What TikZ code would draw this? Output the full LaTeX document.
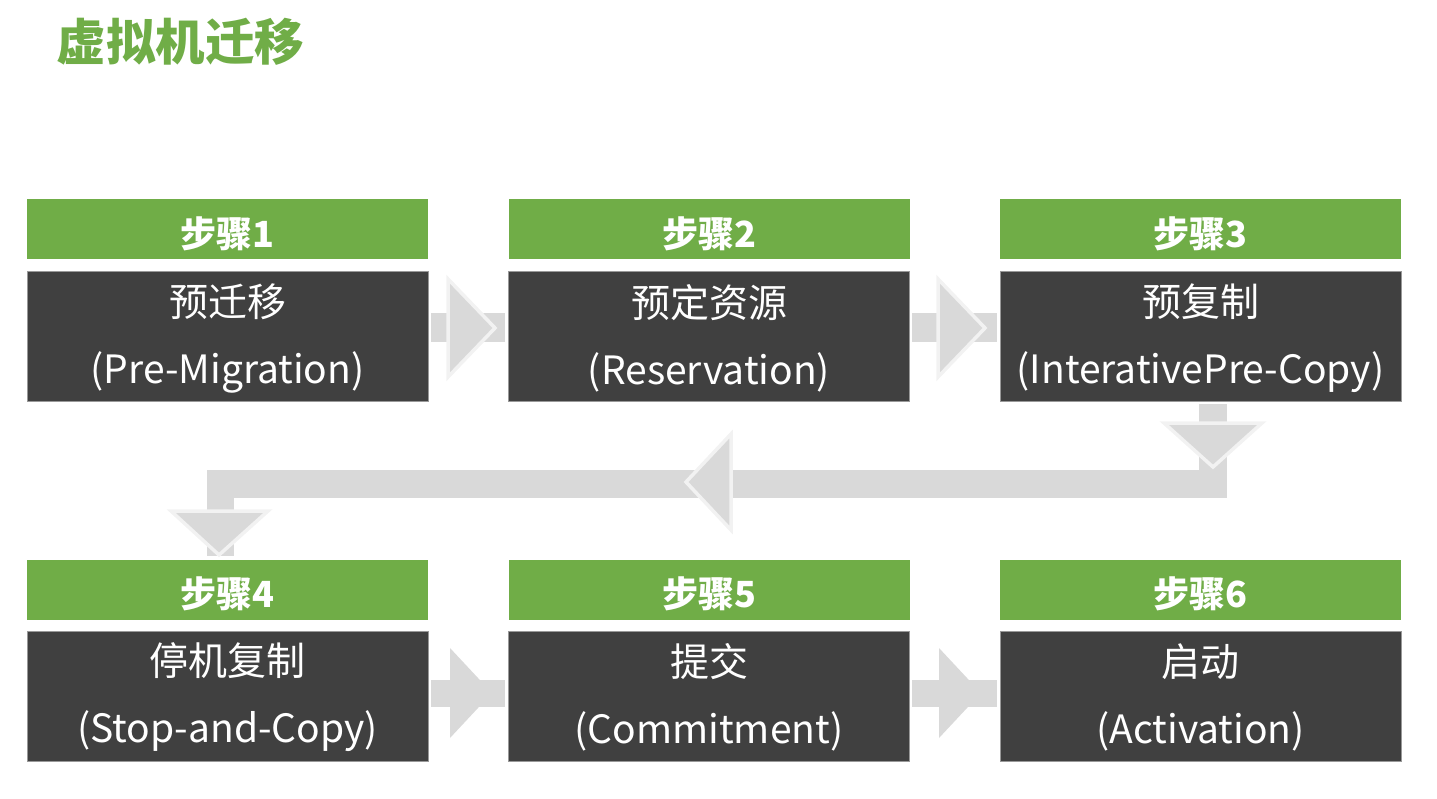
\documentclass[tikz,border=0pt]{standalone}
\usepackage{fontspec}
\setmainfont{Noto Sans CJK SC}
\definecolor{hgreen}{HTML}{70AD47}
\definecolor{dbox}{HTML}{404040}
\definecolor{afill}{HTML}{D9D9D9}
\definecolor{aedge}{HTML}{F2F2F2}
\tikzset{
  hdr/.style={rectangle, fill=hgreen, minimum width=401pt, minimum height=60pt, inner sep=0pt, text=white},
  hdrtext/.style={text=white, font=\fontsize{36}{40}\selectfont\bfseries},
  body/.style={rectangle, fill=dbox, draw=gray!80, line width=0.8pt, minimum width=401pt, minimum height=130pt, inner sep=0pt},
  bodytext/.style={text=white, align=center, font=\fontsize{39}{67}\selectfont},
  bar/.style={fill=afill},
  tri/.style={fill=afill, draw=aedge, line width=3.5pt, line join=miter},
  trib/.style={fill=afill},
}
\begin{document}
\begin{tikzpicture}[x=1pt,y=-1pt]
\useasboundingbox (0,0) rectangle (1437,799);
\node[text=hgreen, font=\fontsize{49.5}{54}\selectfont\bfseries, anchor=west] (title) at (53,42) {虚拟机迁移};

% connectors (block arrows) drawn first
% 1 -> 2
\fill[bar] (431,313) rectangle (505,342);
\draw[tri] (448,279) -- (495,328) -- (448,377) -- cycle;
% 2 -> 3
\fill[bar] (912,313) rectangle (997,342);
\draw[tri] (938,279) -- (985,328) -- (938,377) -- cycle;
% 3 -> 4 path
\fill[bar] (1199,404) rectangle (1227,498);
\fill[bar] (207,470) rectangle (1227,498);
\fill[bar] (207,470) rectangle (234,556);
\draw[tri] (1164,423) -- (1262,423) -- (1213,467) -- cycle;
\draw[tri] (731,434) -- (731,530) -- (686,482) -- cycle;
\draw[tri] (171,511) -- (268,511) -- (219,555) -- cycle;
% 4 -> 5
\fill[bar] (431,680) rectangle (505,707);
\fill[trib] (450,648) -- (492,693) -- (450,738) -- cycle;
% 5 -> 6
\fill[bar] (912,680) rectangle (997,707);
\fill[trib] (939,648) -- (981,693) -- (939,738) -- cycle;

% step boxes
\foreach \n/\x/\y/\t in {1/227.5/229.5/步骤1, 2/709/229.5/步骤2, 3/1200.5/229.5/步骤3,
                         4/227.5/589.5/步骤4, 5/709/589.5/步骤5, 6/1200.5/589.5/步骤6}{
  \node[hdr] (h\n) at (\x,\y) {};
  \node[hdrtext] (ht\n) at (\x,\y+4) {\t};
}
\foreach \n/\x/\y in {1/227.5/336, 2/709/336, 3/1200.5/336, 4/227.5/696, 5/709/696, 6/1200.5/696}{
  \node[body] (b\n) at (\x,\y) {};
}
\node[bodytext] (bt1) at (227.5,338) {预迁移\\(Pre-Migration)};
\node[bodytext] (bt2) at (709,338) {预定资源\\(Reservation)};
\node[bodytext] (bt3) at (1200.5,338) {预复制\\(InterativePre-Copy)};
\node[bodytext] (bt4) at (227.5,697) {停机复制\\(Stop-and-Copy)};
\node[bodytext] (bt5) at (709,697) {提交\\(Commitment)};
\node[bodytext] (bt6) at (1200.5,697) {启动\\(Activation)};
\end{tikzpicture}
\end{document}
